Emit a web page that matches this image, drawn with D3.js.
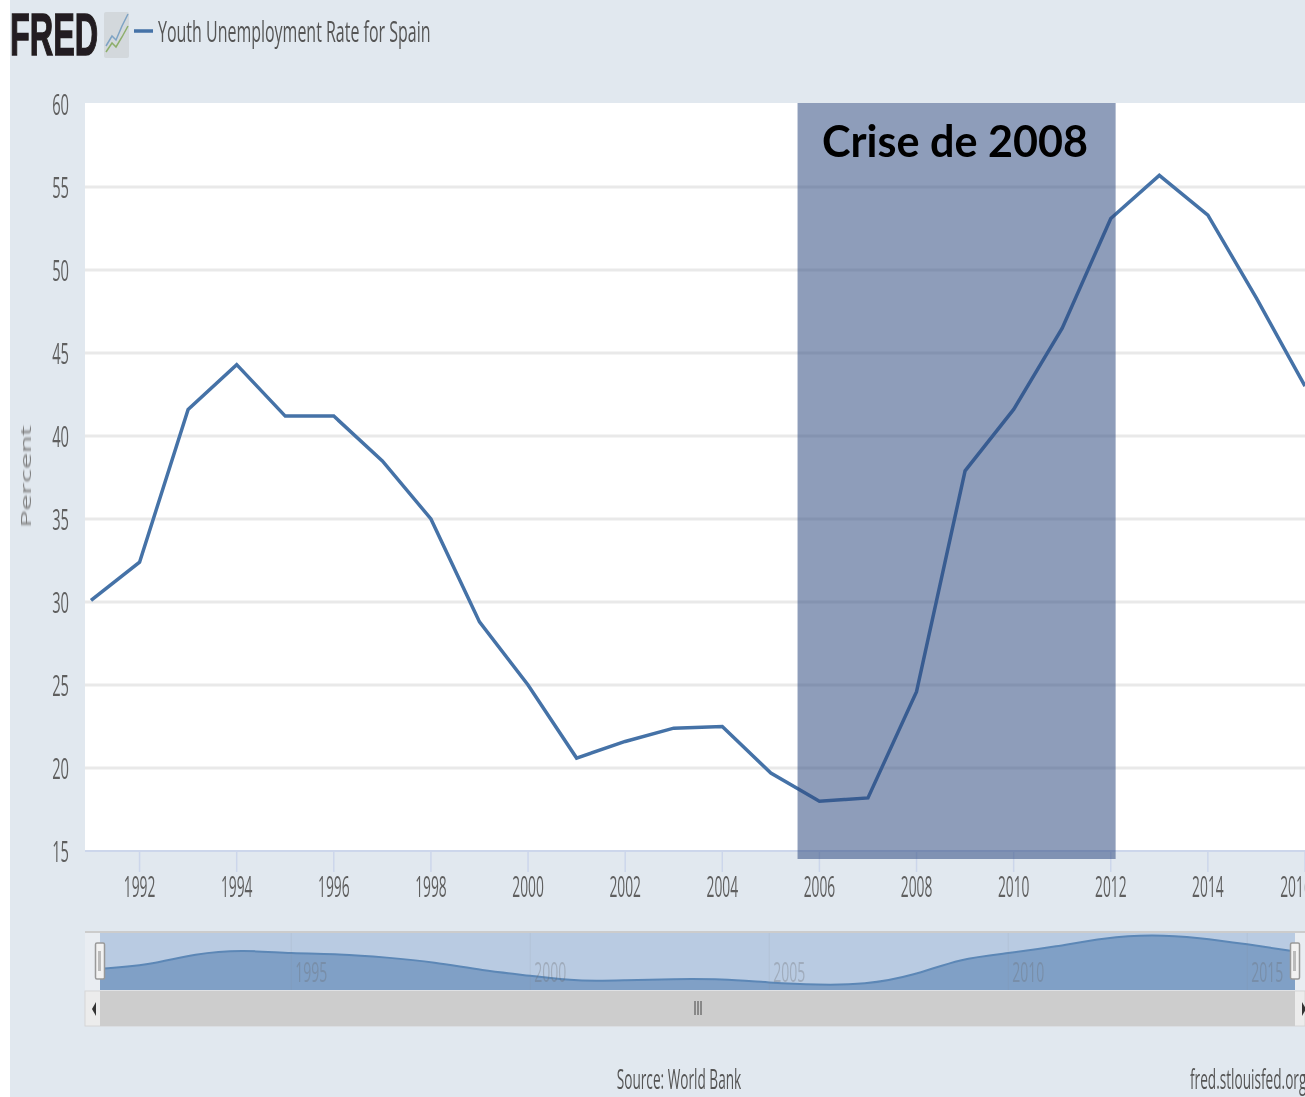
<!DOCTYPE html>
<html>
<head>
<meta charset="utf-8">
<script src="https://cdn.jsdelivr.net/npm/d3@7"></script>
<style>
html, body { margin: 0; padding: 0; background: #fff; overflow: hidden; }
svg { display: block; }
text { font-family: "Open Sans", sans-serif; }
</style>
</head>
<body>
<div id="chart"></div>
<script>
const years = [1991, 1992, 1993, 1994, 1995, 1996, 1997, 1998, 1999, 2000, 2001, 2002, 2003,
    2004, 2005, 2006, 2007, 2008, 2009, 2010, 2011, 2012, 2013, 2014, 2015, 2016];
const rates = [30.1, 32.4, 41.6, 44.3, 41.2, 41.2, 38.5, 35.0, 28.8, 25.0, 20.6, 21.6, 22.4,
    22.5, 19.7, 18.0, 18.2, 24.6, 37.9, 41.6, 46.5, 53.1, 55.7, 53.3, 48.3, 43.0];
const yTicks = [15, 20, 25, 30, 35, 40, 45, 50, 55, 60];
const xTicks = [1992, 1994, 1996, 1998, 2000, 2002, 2004, 2006, 2008, 2010, 2012, 2014, 2016];
const navTicks = [1995, 2000, 2005, 2010, 2015];
const crisisSpan = [2005.55, 2012.1];

const width = 1305, height = 1097;
const data = years.map((y, i) => ({ year: y, rate: rates[i] }));

const svg = d3.select("#chart").append("svg")
    .attr("width", width)
    .attr("height", height)
    .attr("viewBox", `0 0 ${width} ${height}`);

svg.append("defs").append("filter")
    .attr("id", "soft")
    .append("feGaussianBlur")
    .attr("stdDeviation", 0.65);

svg.append("rect")
    .attr("x", 10).attr("y", 0)
    .attr("width", width - 10).attr("height", height)
    .attr("fill", "#e1e8ef");

const x = d3.scaleLinear().domain([1991, 2016]).range([91, 1305]);
const y = d3.scaleLinear().domain([15, 60]).range([851, 104]);

svg.append("rect")
    .attr("x", 85).attr("y", 103)
    .attr("width", width - 85).attr("height", 748)
    .attr("fill", "#fff");

// text is squeezed sideways in the reference, so every label gets a scale
function squeezed(g, px, py, str, size, sx, anchor, fill) {
    return g.append("text")
        .attr("transform", `translate(${px},${py}) scale(${sx},1)`)
        .attr("text-anchor", anchor)
        .attr("font-size", size)
        .attr("fill", fill)
        .text(str);
}

// y axis
const yAxis = svg.append("g").attr("filter", "url(#soft)");
yTicks.forEach(t => {
    if (t > 15 && t < 60) {
        yAxis.append("line")
            .attr("x1", 85).attr("x2", width)
            .attr("y1", y(t)).attr("y2", y(t))
            .attr("stroke", "#e9e9e9")
            .attr("stroke-width", 3);
    }
    squeezed(yAxis, 69, y(t) + 11, t, 30, 0.49, "end", "#5f5f5f");
});

// x axis
const xAxis = svg.append("g").attr("filter", "url(#soft)");
xAxis.append("line")
    .attr("x1", 85).attr("x2", width)
    .attr("y1", 851).attr("y2", 851)
    .attr("stroke", "#ccd6eb")
    .attr("stroke-width", 2);
xTicks.forEach(t => {
    xAxis.append("line")
        .attr("x1", x(t)).attr("x2", x(t))
        .attr("y1", 851).attr("y2", 872)
        .attr("stroke", "#ccd6eb")
        .attr("stroke-width", 1.5);
    // the last label is pushed back from the edge
    const labelX = t === 2016 ? x(t) - 9 : x(t);
    squeezed(xAxis, labelX, 897, t, 30, 0.46, "middle", "#5f5f5f");
});

svg.append("text")
    .attr("transform", "translate(31,476.5) rotate(-90) scale(1.9,1)")
    .attr("text-anchor", "middle")
    .attr("font-size", 15)
    .attr("fill", "#7d7d7d")
    .attr("filter", "url(#soft)")
    .text("Percent");

// series
const line = d3.line().x(d => x(d.year)).y(d => y(d.rate));
svg.append("path")
    .datum(data)
    .attr("d", line)
    .attr("fill", "none")
    .attr("stroke", "#4572a7")
    .attr("stroke-width", 3.5)
    .attr("filter", "url(#soft)");

// crisis overlay
svg.append("rect")
    .attr("x", x(crisisSpan[0])).attr("y", 103)
    .attr("width", x(crisisSpan[1]) - x(crisisSpan[0])).attr("height", 756)
    .attr("fill", "#2f4a80")
    .attr("fill-opacity", 0.54);

svg.append("text")
    .attr("x", 955).attr("y", 157)
    .attr("text-anchor", "middle")
    .style("font-family", "Lato, sans-serif")
    .attr("font-size", 44)
    .attr("font-weight", 700)
    .attr("fill", "#000")
    .attr("textLength", 266)
    .attr("lengthAdjust", "spacingAndGlyphs")
    .text("Crise de 2008");

// navigator
const nav = svg.append("g").attr("filter", "url(#soft)");
const navX = d3.scaleLinear().domain([1991, 2016]).range([100, 1295]);
const navY = d3.scaleLinear().domain([18, 55.2]).range([985, 935]);

nav.append("rect").attr("x", 85).attr("y", 932).attr("width", width - 85).attr("height", 59).attr("fill", "#e9edf2");
nav.append("rect").attr("x", navX(1991)).attr("y", 933).attr("width", navX(2016) - navX(1991)).attr("height", 57).attr("fill", "#b9cbe2");
nav.append("line").attr("x1", 85).attr("x2", width).attr("y1", 932).attr("y2", 932).attr("stroke", "#ccc").attr("stroke-width", 2);

const navArea = d3.area().curve(d3.curveBasis)
    .x(d => navX(d.year)).y0(990).y1(d => navY(d.rate));
const navLine = d3.line().curve(d3.curveBasis)
    .x(d => navX(d.year)).y(d => navY(d.rate));
nav.append("path").datum(data).attr("d", navArea).attr("fill", "#80a0c6");
nav.append("path").datum(data).attr("d", navLine).attr("fill", "none").attr("stroke", "#5c87b6").attr("stroke-width", 2);

navTicks.forEach(t => {
    const tx = navX(t);
    nav.append("line").attr("x1", tx).attr("x2", tx).attr("y1", 933).attr("y2", 990).attr("stroke", "#8f8f8f").attr("stroke-opacity", 0.12);
    squeezed(nav, tx + 4, 982, t, 28, 0.5, "start", "#666").attr("fill-opacity", 0.3);
});

// scrollbar
nav.append("rect").attr("x", 85).attr("y", 991).attr("width", width - 85).attr("height", 35).attr("fill", "#ececec").attr("stroke", "#d6d6d6");
nav.append("rect").attr("x", navX(1991)).attr("y", 991).attr("width", navX(2016) - navX(1991)).attr("height", 35).attr("fill", "#cdcdcd");
nav.append("path").attr("d", "M96,1002 L92,1009 L96,1016 Z").attr("fill", "#333");
nav.append("path").attr("d", "M1302,1002 L1306,1009 L1302,1016 Z").attr("fill", "#333");
[695, 698, 701].forEach(px => {
    nav.append("line").attr("x1", px).attr("x2", px).attr("y1", 1001).attr("y2", 1015).attr("stroke", "#444");
});

// navigator handles
[navX(1991), navX(2016)].forEach(hx => {
    nav.append("rect").attr("x", hx - 4.5).attr("y", 943).attr("width", 9).attr("height", 36).attr("rx", 1.5)
        .attr("fill", "#f2f2f2").attr("stroke", "#999").attr("stroke-width", 1.5);
    nav.append("rect").attr("x", hx - 2).attr("y", 951).attr("width", 3).attr("height", 20).attr("fill", "#bbb");
});

// footer
const foot = svg.append("g").attr("filter", "url(#soft)");
squeezed(foot, 679, 1089, "Source: World Bank", 27, 0.505, "middle", "#555");
squeezed(foot, 1190, 1089, "fred.stlouisfed.org", 27, 0.505, "start", "#555");

// header
const head = svg.append("g").attr("filter", "url(#soft)");
head.append("text")
    .attr("transform", "translate(10,55) scale(0.54,1)")
    .style("font-family", "'Liberation Sans', sans-serif")
    .attr("font-size", 60)
    .attr("font-weight", 700)
    .attr("stroke", "#231f20")
    .attr("stroke-width", 1.5)
    .attr("fill", "#231f20")
    .text("FRED");
head.append("rect").attr("x", 104).attr("y", 12).attr("width", 25).attr("height", 46).attr("rx", 2).attr("fill", "#d3d8dc");
const iconBlue = [[106, 46], [112, 36], [116, 40], [122, 26], [128, 14]];
const iconGreen = [[106, 52], [112, 43], [116, 47], [122, 37], [128, 26]];
const iconLine = d3.line();
head.append("path").attr("d", iconLine(iconBlue)).attr("fill", "none").attr("stroke", "#7ea3c4").attr("stroke-width", 1.5);
head.append("path").attr("d", iconLine(iconGreen)).attr("fill", "none").attr("stroke", "#8dae6b").attr("stroke-width", 1.5);
head.append("line").attr("x1", 134).attr("x2", 153).attr("y1", 31).attr("y2", 31).attr("stroke", "#4572a7").attr("stroke-width", 3.5);
squeezed(head, 158, 42, "Youth Unemployment Rate for Spain", 30, 0.533, "start", "#555");
</script>
</body>
</html>
